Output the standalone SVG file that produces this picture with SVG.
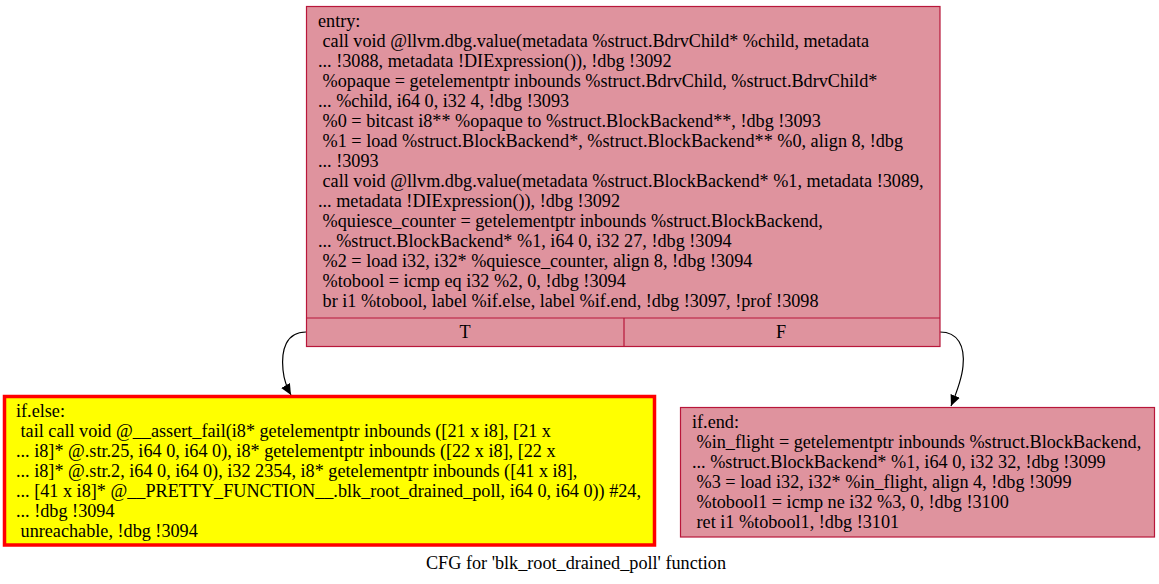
<svg xmlns="http://www.w3.org/2000/svg" width="1159" height="584" viewBox="0 0 1159 584">
<style>
text{font-family:"Liberation Serif","Times New Roman",serif;font-size:18.2px;fill:#000;white-space:pre}
.blk{fill:#df939e;stroke:#b8163a;stroke-width:1.2}
.warn{fill:#ffff00;stroke:#ff0000;stroke-width:3.5}
.edge{fill:none;stroke:#000;stroke-width:1.2}
.mid{text-anchor:middle}
</style>
<defs>
<marker id="arr" markerWidth="11" markerHeight="13" refX="11" refY="5" orient="auto" markerUnits="userSpaceOnUse" viewBox="0 0 11 10">
<path d="M0,0 L11,5 L0,10 Z" fill="#000"/>
</marker>
</defs>
<rect width="1159" height="584" fill="#fff"/>
<g id="connectors">
<path class="edge" d="M306,332 C286,332 281,350 283,370 C284,380 287,388 291,395" marker-end="url(#arr)"/>
<path class="edge" d="M940,332 C958,332 965,346 963,366 C962,378 956,394 951,406" marker-end="url(#arr)"/>
</g>
<g id="entry">
<rect class="blk" x="306.5" y="6.5" width="633.5" height="340"/>
<line class="blk" x1="306.5" y1="318" x2="940" y2="318"/>
<line class="blk" x1="624" y1="318" x2="624" y2="346.5"/>
<text xml:space="preserve"><tspan x="318" y="27">entry:</tspan><tspan x="318" y="47"> call void @llvm.dbg.value(metadata %struct.BdrvChild* %child, metadata</tspan><tspan x="318" y="67">... !3088, metadata !DIExpression()), !dbg !3092</tspan><tspan x="318" y="87"> %opaque = getelementptr inbounds %struct.BdrvChild, %struct.BdrvChild*</tspan><tspan x="318" y="107">... %child, i64 0, i32 4, !dbg !3093</tspan><tspan x="318" y="127"> %0 = bitcast i8** %opaque to %struct.BlockBackend**, !dbg !3093</tspan><tspan x="318" y="147"> %1 = load %struct.BlockBackend*, %struct.BlockBackend** %0, align 8, !dbg</tspan><tspan x="318" y="167">... !3093</tspan><tspan x="318" y="187"> call void @llvm.dbg.value(metadata %struct.BlockBackend* %1, metadata !3089,</tspan><tspan x="318" y="207">... metadata !DIExpression()), !dbg !3092</tspan><tspan x="318" y="227"> %quiesce_counter = getelementptr inbounds %struct.BlockBackend,</tspan><tspan x="318" y="247">... %struct.BlockBackend* %1, i64 0, i32 27, !dbg !3094</tspan><tspan x="318" y="267"> %2 = load i32, i32* %quiesce_counter, align 8, !dbg !3094</tspan><tspan x="318" y="287"> %tobool = icmp eq i32 %2, 0, !dbg !3094</tspan><tspan x="318" y="307"> br i1 %tobool, label %if.else, label %if.end, !dbg !3097, !prof !3098</tspan></text>
<text class="mid" x="465" y="338">T</text>
<text class="mid" x="781" y="338">F</text>
</g>
<g id="if.else">
<rect class="warn" x="4.5" y="396.5" width="650" height="148.5"/>
<text xml:space="preserve"><tspan x="16" y="417">if.else:</tspan><tspan x="16" y="437"> tail call void @__assert_fail(i8* getelementptr inbounds ([21 x i8], [21 x</tspan><tspan x="16" y="457">... i8]* @.str.25, i64 0, i64 0), i8* getelementptr inbounds ([22 x i8], [22 x</tspan><tspan x="16" y="477">... i8]* @.str.2, i64 0, i64 0), i32 2354, i8* getelementptr inbounds ([41 x i8],</tspan><tspan x="16" y="497">... [41 x i8]* @__PRETTY_FUNCTION__.blk_root_drained_poll, i64 0, i64 0)) #24,</tspan><tspan x="16" y="517">... !dbg !3094</tspan><tspan x="16" y="537"> unreachable, !dbg !3094</tspan></text>
</g>
<g id="if.end">
<rect class="blk" x="680.5" y="407.5" width="474" height="129.5"/>
<text xml:space="preserve"><tspan x="692" y="428">if.end:</tspan><tspan x="692" y="448"> %in_flight = getelementptr inbounds %struct.BlockBackend,</tspan><tspan x="692" y="468">... %struct.BlockBackend* %1, i64 0, i32 32, !dbg !3099</tspan><tspan x="692" y="488"> %3 = load i32, i32* %in_flight, align 4, !dbg !3099</tspan><tspan x="692" y="508"> %tobool1 = icmp ne i32 %3, 0, !dbg !3100</tspan><tspan x="692" y="528"> ret i1 %tobool1, !dbg !3101</tspan></text>
</g>
<text class="mid" x="576" y="569">CFG for 'blk_root_drained_poll' function</text>
</svg>
